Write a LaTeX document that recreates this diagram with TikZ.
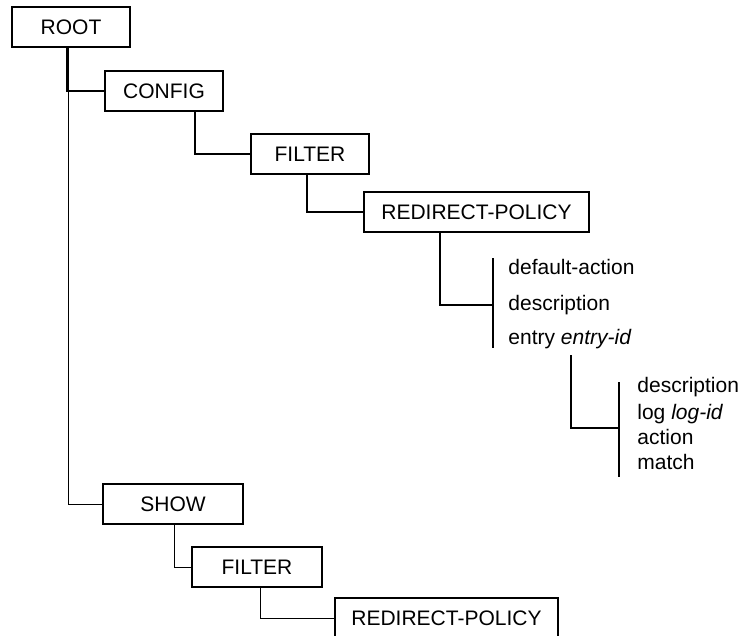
\documentclass[tikz,border=0pt]{standalone}
\usepackage{fontspec}
\setmainfont{Liberation Sans}

\begin{document}
\begin{tikzpicture}[x=0.5pt, y=-0.5pt, font=\fontsize{10.5}{12}\selectfont,
		box/.style={draw, line width=1pt, inner sep=0pt, minimum height=20pt},
		link/.style={line width=1pt},
		thinlink/.style={line width=0.5pt},
		leaf/.style={anchor=base west, inner sep=0pt}]
		\clip (0, 0) rectangle (743, 636);
		% config branch
		\node [box, minimum width=59pt] (root) at (71, 27.5) {ROOT};
		\node [box, minimum width=59pt] (config) at (164, 91) {CONFIG};
		\node [box, minimum width=59pt] (filter) at (310, 154.5) {FILTER};
		\node [box, minimum width=112.5pt] (policy) at (476.5, 212) {REDIRECT-POLICY};
		\draw [link] (root.south -| 67, 0) |- (config.west);
		\draw [link] (config.south -| 195, 0) |- (filter.west);
		\draw [link] (filter.south -| 307, 0) |- (policy.west);
		% policy keywords
		\node [leaf] (defaction) at (508, 274) {default-action};
		\node [leaf] (desc) at (508, 310) {description};
		\node [leaf] (entry) at (508, 344) {entry \textit{entry-id}};
		\coordinate (bartop) at (493, 258);
		\coordinate (barbot) at (493, 348);
		\coordinate (barjoin) at (493, 305);
		\draw [link] (bartop) -- (barbot);
		\draw [link] (policy.south -| 440, 0) |- (barjoin);
		% entry keywords
		\node [leaf] (entrydesc) at (637, 392) {description};
		\node [leaf] (log) at (637, 419) {log \textit{log-id}};
		\node [leaf] (action) at (637, 444) {action};
		\node [leaf] (match) at (637, 469) {match};
		\coordinate (entrydrop) at (571, 355);
		\coordinate (subtop) at (619, 382);
		\coordinate (subbot) at (619, 477);
		\coordinate (subjoin) at (619, 428);
		\draw [link] (subtop) -- (subbot);
		\draw [link] (entrydrop) |- (subjoin);
		% show branch
		\node [box, minimum width=70pt] (show) at (173, 504) {SHOW};
		\node [box, minimum width=65pt] (filtershow) at (257, 567) {FILTER};
		\node [box, minimum width=111.5pt] (policyshow) at (446.5, 618) {REDIRECT-POLICY};
		\draw [thinlink] (root.south -| 68, 0) |- (show.west);
		\draw [thinlink] (show.south -| 174, 0) |- (filtershow.west);
		\draw [thinlink] (filtershow.south -| 260, 0) |- (policyshow.west);
	\end{tikzpicture}
\end{document}
